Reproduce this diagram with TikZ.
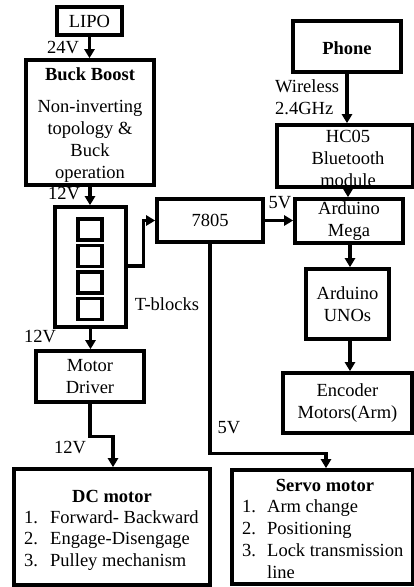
\documentclass[tikz,border=0pt]{standalone}
\usepackage{fontspec}
\setmainfont{LiberationSerif}[Extension=.ttf, UprightFont=*-Regular, BoldFont=*-Bold, ItalicFont=*-Italic, BoldItalicFont=*-BoldItalic]
\usetikzlibrary{arrows.meta}
\begin{document}
\begin{tikzpicture}[x=1pt,y=-1pt,
  every node/.style={font=\fontsize{18.5}{22}\selectfont, inner sep=0pt},
  blk/.style={draw, line width=3.6pt, rectangle, align=center},
  txt/.style={align=center},
  ttl/.style={font=\fontsize{18.5}{22}\selectfont\bfseries},
  conn/.style={line width=3.2pt},
  arr/.style={conn, -{Triangle[width=10pt,length=9pt]}}]
\useasboundingbox (0,0) rectangle (414,587);
% boxes
\node[blk, minimum width=65pt, minimum height=28pt] (lipo) at (89.5,21) {LIPO};
\node[blk, minimum width=128pt, minimum height=125pt] (buck) at (90,122.5) {};
\node[ttl] (bucktitle) at (90,74) {Buck Boost};
\node[txt] (buckbody) at (90,141) {Non-inverting\\topology \&\\Buck\\operation};
\node[blk, minimum width=71pt, minimum height=120pt] (tb) at (90.5,267) {};
\node[blk, line width=3.2pt, minimum width=24pt, minimum height=21pt] (sq1) at (90,229.5) {};
\node[blk, line width=3.2pt, minimum width=24pt, minimum height=21pt] (sq2) at (90,256) {};
\node[blk, line width=3.2pt, minimum width=24pt, minimum height=21pt] (sq3) at (90,282.5) {};
\node[blk, line width=3.2pt, minimum width=24pt, minimum height=21pt] (sq4) at (90,309) {};
\node[blk, minimum width=106pt, minimum height=43pt] (reg) at (210,220.5) {7805};
\node[blk, minimum width=108pt, minimum height=51pt] (md) at (90,376.5) {Motor\\Driver};
\node[blk, minimum width=196pt, minimum height=116pt] (dc) at (112,527) {};
\node[ttl] (dctitle) at (112,496) {DC motor};
\node[anchor=base west] (dcn1) at (24,523) {1.};
\node[anchor=base west] (dct1) at (50,523) {Forward- Backward};
\node[anchor=base west] (dcn2) at (24,544.5) {2.};
\node[anchor=base west] (dct2) at (50,544.5) {Engage-Disengage};
\node[anchor=base west] (dcn3) at (24,566) {3.};
\node[anchor=base west] (dct3) at (50,566) {Pulley mechanism};
\node[blk, minimum width=108pt, minimum height=51pt] (phone) at (347,46.5) {};
\node[ttl] (phonetext) at (347,48) {Phone};
\node[blk, minimum width=136pt, minimum height=62pt] (hc) at (345,156) {};
\node[txt] (hctext) at (348,158) {HC05\\Bluetooth\\module};
\node[blk, minimum width=108pt, minimum height=44pt] (mega) at (349,221) {Arduino\\Mega};
\node[blk, minimum width=83pt, minimum height=70pt] (uno) at (347.5,304) {Arduino\\UNOs};
\node[blk, minimum width=129pt, minimum height=60pt] (enc) at (347.5,403) {Encoder\\Motors(Arm)};
\node[blk, minimum width=181pt, minimum height=114pt] (servo) at (322.5,527) {};
\node[ttl] (servotitle) at (325,485) {Servo motor};
\node[anchor=base west] (svn1) at (242,512) {1.};
\node[anchor=base west] (svt1) at (267,512) {Arm change};
\node[anchor=base west] (svn2) at (242,534) {2.};
\node[anchor=base west] (svt2) at (267,534) {Positioning};
\node[anchor=base west] (svn3) at (242,556) {3.};
\node[anchor=base west] (svt3) at (267,556) {Lock transmission};
\node[anchor=base west] (svt4) at (267,578) {line};
% labels
\node (l24) at (63,48) {24V};
\node (l12a) at (64,194) {12V};
\node (ltb) at (167,304) {T-blocks};
\node (l12b) at (40,337) {12V};
\node (l12c) at (70,448) {12V};
\node (l5a) at (280,203) {5V};
\node (l5b) at (229,428) {5V};
\node[align=left, anchor=west] (lw) at (275,97) {Wireless\\2.4GHz};
% connectors
\draw[arr] (lipo.south) -- (lipo.south |- buck.north);
\draw[arr] (buck.south) -- (buck.south |- tb.north);
\draw[arr] ([yshift=1pt]tb.east) -- ++(16,0) |- (reg.west);
\draw[arr] (tb.south) -- (tb.south |- md.north);
\draw[arr] (md.south) -- ++(0,33) -| ([xshift=1pt]dc.north);
\draw[arr] (reg.east) -- (reg.east -| mega.west);
\draw[arr] (reg.south) -- ++(0,210) -| ([xshift=3.5pt]servo.north);
\draw[arr] (phone.south) -- (phone.south |- hc.north);
\draw[arr] ([xshift=3pt]hc.south) -- ([xshift=3pt]hc.south |- mega.north);
\draw[arr] ([xshift=1pt]mega.south) -- ([xshift=1pt]mega.south |- uno.north);
\draw[arr] ([xshift=2.5pt]uno.south) -- ([xshift=2.5pt]uno.south |- enc.north);
\end{tikzpicture}
\end{document}
